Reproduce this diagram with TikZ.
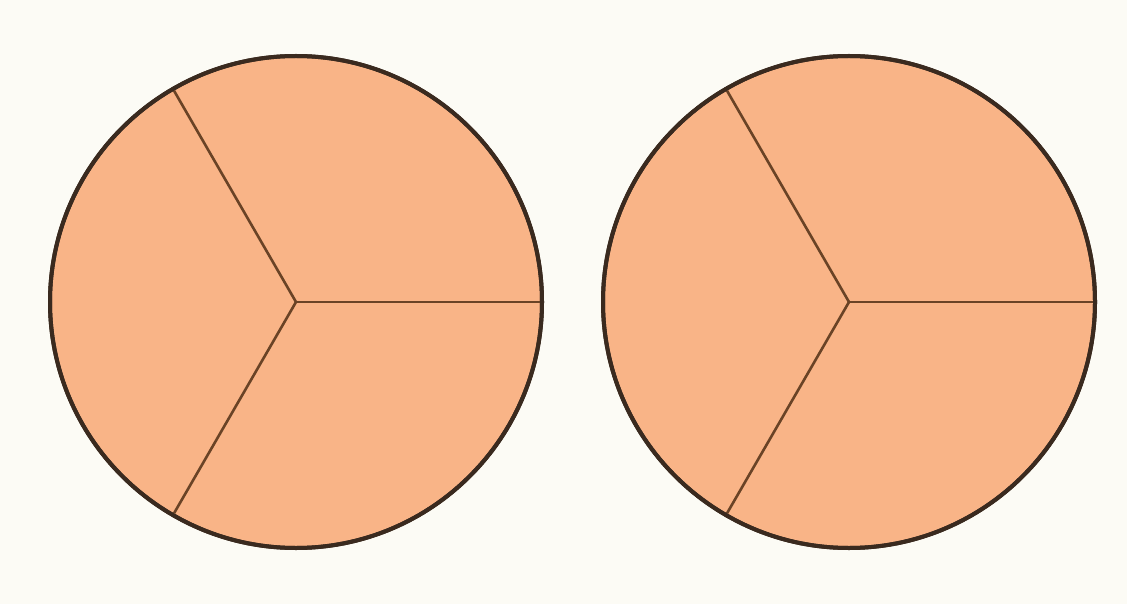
\documentclass[tikz,border=0pt]{standalone}
\usetikzlibrary{calc}
\begin{document}
\begin{tikzpicture}[x=1pt,y=-1pt,
  disc/.style={fill=peach,draw=rim,line width=4pt},
  cut/.style={draw=cutc,line width=2.6pt}]
\definecolor{peach}{HTML}{F9B487}
\definecolor{rim}{HTML}{3A2A1F}
\definecolor{cutc}{HTML}{6A4326}
\definecolor{bg}{HTML}{FCFBF5}
\fill[bg] (0,0) rectangle (1127,604);
\useasboundingbox (0,0) rectangle (1127,604);
\foreach \cx/\n in {296/L,849/R}{
  \coordinate (c\n) at (\cx,302);
  \draw[disc] (c\n) circle (246);
  \coordinate (a\n) at ($(c\n)+(0:244)$);
  \coordinate (b\n) at ($(c\n)+(-120:244)$);
  \coordinate (d\n) at ($(c\n)+(120:244)$);
  \draw[cut] (c\n) -- (a\n);
  \draw[cut] (c\n) -- (b\n);
  \draw[cut] (c\n) -- (d\n);
  \draw[draw=rim,line width=4pt] (c\n) circle (246);
}
\end{tikzpicture}
\end{document}
